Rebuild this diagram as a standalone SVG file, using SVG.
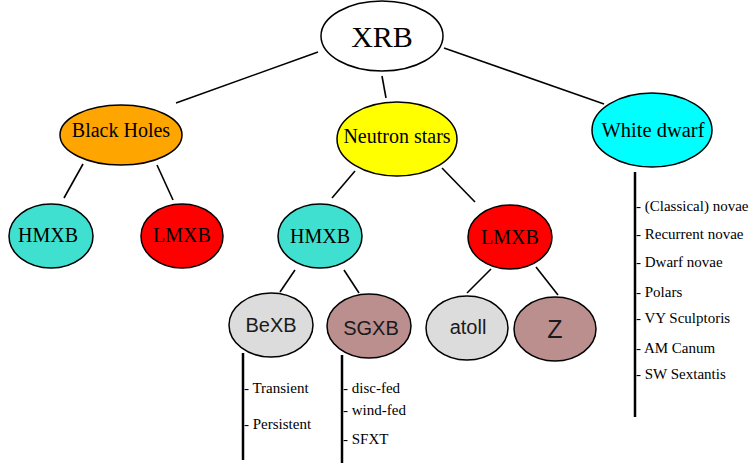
<svg xmlns="http://www.w3.org/2000/svg" width="754" height="466" viewBox="0 0 754 466">
<style>
.n{stroke:#000;stroke-width:1.5}
.serif{font-family:"Liberation Serif","Times New Roman",serif;fill:#000;text-anchor:middle}
.sans{font-family:"Liberation Sans",Arial,sans-serif;fill:#1a1a1a;text-anchor:middle}
.c line{stroke:#000;stroke-width:1.6}
.v line{stroke:#000;stroke-width:2.5}
.li{font-family:"Liberation Serif","Times New Roman",serif;font-size:15px;fill:#000}
</style>
<rect width="754" height="466" fill="#fff"/>
<g class="c" id="connectors">
<line x1="176" y1="103" x2="318" y2="52"/>
<line x1="382" y1="76" x2="386" y2="98"/>
<line x1="444" y1="48" x2="604" y2="104"/>
<line x1="83" y1="164" x2="64" y2="198"/>
<line x1="157" y1="165" x2="173" y2="200"/>
<line x1="355" y1="171" x2="332" y2="198"/>
<line x1="442" y1="168" x2="475" y2="202"/>
<line x1="295" y1="270" x2="280" y2="292"/>
<line x1="344" y1="270" x2="359" y2="293"/>
<line x1="491" y1="269" x2="467" y2="293"/>
<line x1="536" y1="267" x2="558" y2="295"/>
</g>
<g id="XRB"><ellipse class="n" cx="382" cy="36" rx="61" ry="35" fill="#fff"/><text class="serif" x="382" y="47" font-size="30">XRB</text></g>
<g id="BlackHoles"><ellipse class="n" cx="121" cy="135" rx="61" ry="30" fill="#FFA500"/><text class="serif" x="121" y="137" font-size="20">Black Holes</text></g>
<g id="NeutronStars"><ellipse class="n" cx="397" cy="139" rx="60" ry="37" fill="#FFFF00"/><text class="serif" x="397" y="143" font-size="20">Neutron stars</text></g>
<g id="WhiteDwarf"><ellipse class="n" cx="652" cy="130" rx="60" ry="37" fill="#00FFFF"/><text class="serif" x="653" y="137" font-size="20.5">White dwarf</text></g>
<g id="BH_HMXB"><ellipse class="n" cx="51" cy="236" rx="42" ry="32" fill="#40E0D0"/><text class="serif" x="48" y="242" font-size="20">HMXB</text></g>
<g id="BH_LMXB"><ellipse class="n" cx="182" cy="236" rx="41" ry="32" fill="#FF0000"/><text class="serif" x="182" y="242" font-size="20">LMXB</text></g>
<g id="NS_HMXB"><ellipse class="n" cx="320" cy="236" rx="42" ry="32" fill="#40E0D0"/><text class="serif" x="320" y="243" font-size="20">HMXB</text></g>
<g id="NS_LMXB"><ellipse class="n" cx="510" cy="237" rx="42" ry="32" fill="#FF0000"/><text class="serif" x="510" y="244" font-size="20">LMXB</text></g>
<g id="BeXB"><ellipse class="n" cx="271" cy="325" rx="42" ry="32" fill="#DCDCDC"/><text class="sans" x="271" y="332" font-size="20">BeXB</text></g>
<g id="SGXB"><ellipse class="n" cx="369" cy="326" rx="42" ry="32" fill="#BC8F8F"/><text class="sans" x="371" y="335" font-size="20">SGXB</text></g>
<g id="atoll"><ellipse class="n" cx="467" cy="328" rx="41" ry="32" fill="#DCDCDC"/><text class="sans" x="468" y="334" font-size="20">atoll</text></g>
<g id="Z"><ellipse class="n" cx="555" cy="329" rx="41" ry="32" fill="#BC8F8F"/><text class="sans" x="555" y="338" font-size="25">Z</text></g>
<g class="v" id="lists">
<line x1="243" y1="353" x2="243" y2="460"/>
<line x1="342" y1="355" x2="342" y2="463"/>
<line x1="635" y1="172" x2="635" y2="417"/>
</g>
<g id="BeXB_list" class="li">
<text x="244" y="393">- Transient</text>
<text x="244" y="429">- Persistent</text>
</g>
<g id="SGXB_list" class="li">
<text x="343" y="393">- disc-fed</text>
<text x="343" y="415">- wind-fed</text>
<text x="343" y="444">- SFXT</text>
</g>
<g id="WD_list" class="li">
<text x="636" y="211">- (Classical) novae</text>
<text x="636" y="239">- Recurrent novae</text>
<text x="636" y="267">- Dwarf novae</text>
<text x="636" y="297">- Polars</text>
<text x="636" y="323">- VY Sculptoris</text>
<text x="636" y="353">- AM Canum</text>
<text x="636" y="379">- SW Sextantis</text>
</g>
</svg>
